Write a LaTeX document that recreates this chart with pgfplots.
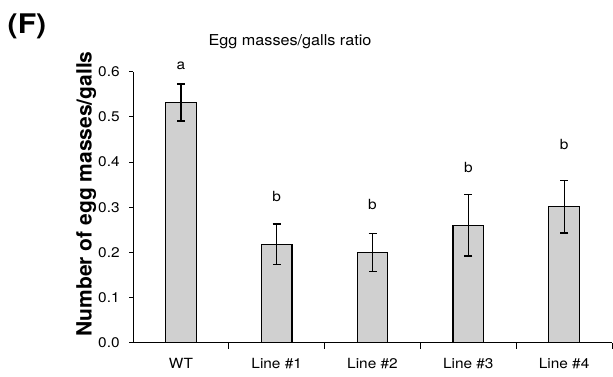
\documentclass[border=0pt]{standalone}
\usepackage{fontspec}
\setmainfont{texgyreheros}[Extension=.otf, UprightFont=*-regular, BoldFont=*-bold, ItalicFont=*-italic, BoldItalicFont=*-bolditalic]
\usepackage{pgfplots}
\pgfplotsset{compat=1.18}
\definecolor{barfill}{RGB}{208,208,208}
\begin{document}
\begin{tikzpicture}[x=1pt,y=1pt]
\useasboundingbox (0,0) rectangle (613,376);
\begin{axis}[
  at={(133pt,33.3pt)}, anchor=south west,
  scale only axis, width=479pt, height=271pt,
  xmin=-0.5, xmax=4.5, ymin=0, ymax=0.6,
  clip=false,
  axis x line=bottom, axis y line=left,
  axis line style={-, line width=1pt},
  ytick={0,0.1,0.2,0.3,0.4,0.5,0.6},
  yticklabel style={xshift=-5pt, /pgf/number format/.cd, fixed, fixed zerofill, precision=1, assume math mode=true},
  xtick={0,1,2,3,4},
  xticklabels={WT, Line \#1, Line \#2, Line \#3, Line \#4},
  minor xtick={0.5,1.5,2.5,3.5,4.5},
  major x tick style={draw=none},
  minor x tick style={black, line width=1pt},
  major y tick style={black, line width=1pt},
  tick align=outside,
  major tick length=4pt, minor tick length=6pt,
  ticklabel style={font=\fontsize{14}{14}\selectfont, xscale=1.1},
  xticklabel style={anchor=base, yshift=-22pt},
]
\addplot[ybar, bar width=30.7pt, fill=barfill, draw=black, line width=1.2pt,
  error bars/.cd, y dir=both, y explicit,
  error bar style={line width=1.2pt, black},
  error mark options={rotate=90, mark size=4pt, line width=1.2pt, black}]
  coordinates {
  (0,0.532) +- (0,0.041)
  (1,0.218) +- (0,0.045)
  (2,0.199) +- (0,0.042)
  (3,0.260) +- (0,0.068)
  (4,0.301) +- (0,0.058)
  };
\addplot[draw=none, nodes near coords, point meta=explicit symbolic,
  nodes near coords style={anchor=center, font=\fontsize{14}{14}\selectfont, xscale=1.1}]
  coordinates {
  (0,0.614) [a]
  (1,0.323) [b]
  (2,0.305) [b]
  (3,0.387) [b]
  (4,0.439) [b]
  };
\end{axis}
\node[font=\fontsize{15}{15}\selectfont, anchor=base, xscale=1.08] at (290,331) {Egg masses/galls ratio};
\node[font=\bfseries\fontsize{27}{27}\selectfont, xscale=1.12] at (27,349.5) {(F)};
\node[rotate=90, anchor=base, font=\bfseries\fontsize{21}{21}\selectfont] at (91.7,182) {Number of egg masses/galls};
\end{tikzpicture}
\end{document}
